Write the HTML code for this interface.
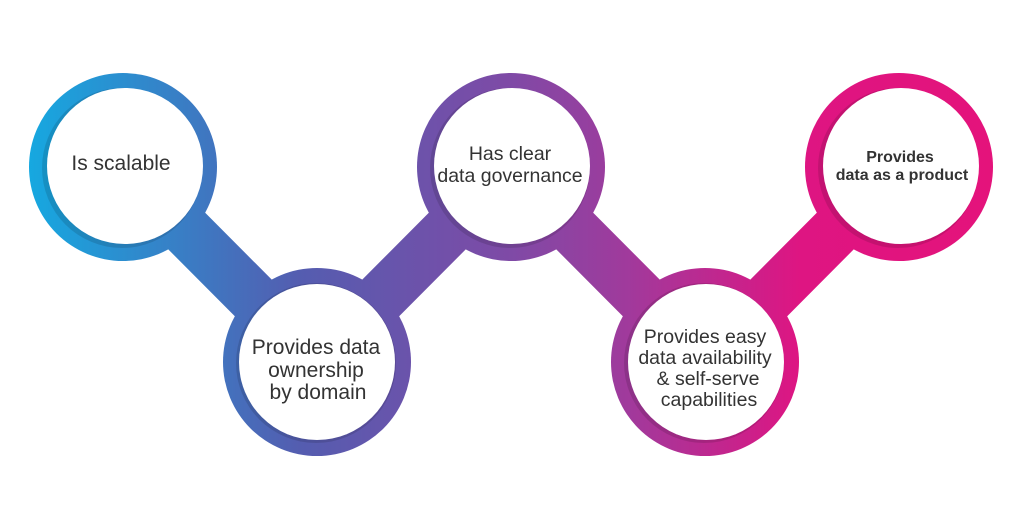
<!DOCTYPE html>
<html><head><style>
html,body{margin:0;padding:0;background:#fff}
svg{display:block}
text{font-family:"Liberation Sans",sans-serif;fill:#333;text-anchor:middle}
</style></head><body>
<svg width="1024" height="531" viewBox="0 0 1024 531">
<defs>
<linearGradient id="g" x1="29" y1="0" x2="993" y2="0" gradientUnits="userSpaceOnUse">
<stop offset="0" stop-color="#16a8e0"/>
<stop offset="0.28" stop-color="#545db0"/>
<stop offset="0.5" stop-color="#7f4aa6"/>
<stop offset="0.62" stop-color="#a03a9c"/>
<stop offset="0.8" stop-color="#de1582"/>
<stop offset="1" stop-color="#e4137b"/>
</linearGradient>
</defs>
<g fill="url(#g)" stroke="url(#g)">
<polyline points="123,167 317,362 511,167 705,362 899,167" fill="none" stroke-width="52" stroke-linejoin="round"/>
<circle cx="123" cy="167" r="94" stroke="none"/>
<circle cx="317" cy="362" r="94" stroke="none"/>
<circle cx="511" cy="167" r="94" stroke="none"/>
<circle cx="705" cy="362" r="94" stroke="none"/>
<circle cx="899" cy="167" r="94" stroke="none"/>
</g>
<g fill="#000" opacity="0.12">
<circle cx="122" cy="168" r="80"/>
<circle cx="316" cy="363" r="80"/>
<circle cx="510" cy="168" r="80"/>
<circle cx="704" cy="363" r="80"/>
<circle cx="898" cy="168" r="80"/>
</g>
<g fill="#fff">
<circle cx="125" cy="166" r="78"/>
<circle cx="317" cy="362" r="78"/>
<circle cx="512" cy="166" r="78"/>
<circle cx="706" cy="362" r="78"/>
<circle cx="901" cy="166" r="78"/>
</g>
<text x="121" y="170" font-size="21">Is scalable</text>
<text x="316" y="354" font-size="21">Provides data</text>
<text x="316" y="377" font-size="21">ownership</text>
<text x="318" y="399" font-size="21">by domain</text>
<text x="510" y="160" font-size="19.5">Has clear</text>
<text x="510" y="182" font-size="19.5">data governance</text>
<text x="705" y="343" font-size="19.5">Provides easy</text>
<text x="705" y="364" font-size="19.5">data availability</text>
<text x="708" y="385" font-size="19.5">&amp; self-serve</text>
<text x="709" y="406" font-size="19.5">capabilities</text>
<text x="900" y="162" font-size="16" font-weight="bold">Provides</text>
<text x="902" y="180" font-size="16" font-weight="bold">data as a product</text>
</svg>
</body></html>
